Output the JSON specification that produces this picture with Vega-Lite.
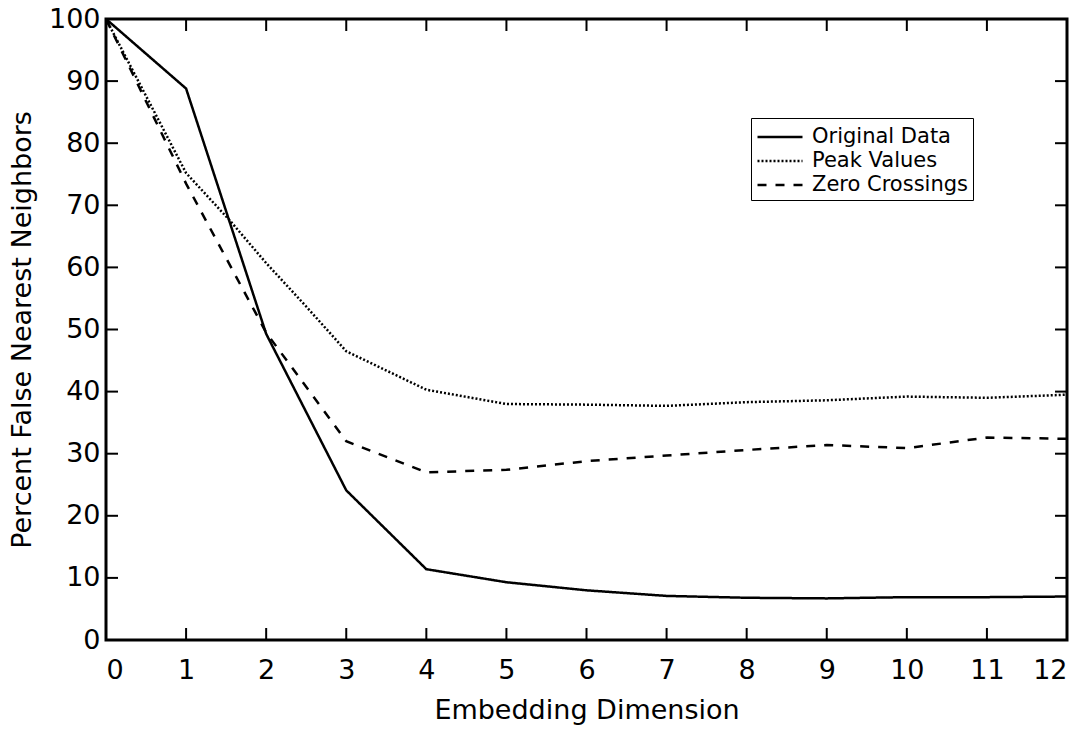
{
  "$schema": "https://vega.github.io/schema/vega-lite/v6.json",
  "width": 961,
  "height": 621,
  "autosize": "none",
  "padding": {"left": 106, "top": 19, "right": 16, "bottom": 89},
  "background": "white",
  "config": {
    "view": {"stroke": "black", "strokeWidth": 3},
    "font": "DejaVu Sans",
    "axis": {
      "domain": false,
      "ticks": false,
      "grid": false,
      "labelColor": "black",
      "titleColor": "black",
      "labelFont": "DejaVu Sans",
      "titleFont": "DejaVu Sans",
      "labelFontSize": 27,
      "titleFontSize": 27,
      "titleFontWeight": "normal"
    }
  },
  "datasets": {
    "xticks": [{"v": 0}, {"v": 1}, {"v": 2}, {"v": 3}, {"v": 4}, {"v": 5}, {"v": 6}, {"v": 7}, {"v": 8}, {"v": 9}, {"v": 10}, {"v": 11}, {"v": 12}],
    "yticks": [{"v": 0}, {"v": 10}, {"v": 20}, {"v": 30}, {"v": 40}, {"v": 50}, {"v": 60}, {"v": 70}, {"v": 80}, {"v": 90}, {"v": 100}],
    "series": [
      {"dim": 0, "pct": 100, "series": "Original Data"},
      {"dim": 1, "pct": 88.8, "series": "Original Data"},
      {"dim": 2, "pct": 49.3, "series": "Original Data"},
      {"dim": 3, "pct": 24.1, "series": "Original Data"},
      {"dim": 4, "pct": 11.4, "series": "Original Data"},
      {"dim": 5, "pct": 9.3, "series": "Original Data"},
      {"dim": 6, "pct": 8.0, "series": "Original Data"},
      {"dim": 7, "pct": 7.1, "series": "Original Data"},
      {"dim": 8, "pct": 6.8, "series": "Original Data"},
      {"dim": 9, "pct": 6.7, "series": "Original Data"},
      {"dim": 10, "pct": 6.9, "series": "Original Data"},
      {"dim": 11, "pct": 6.9, "series": "Original Data"},
      {"dim": 12, "pct": 7.0, "series": "Original Data"},
      {"dim": 0, "pct": 100, "series": "Peak Values"},
      {"dim": 1, "pct": 75.2, "series": "Peak Values"},
      {"dim": 1.55, "pct": 67.5, "series": "Peak Values"},
      {"dim": 2, "pct": 60.7, "series": "Peak Values"},
      {"dim": 2.5, "pct": 53.7, "series": "Peak Values"},
      {"dim": 3, "pct": 46.5, "series": "Peak Values"},
      {"dim": 4, "pct": 40.3, "series": "Peak Values"},
      {"dim": 5, "pct": 38.0, "series": "Peak Values"},
      {"dim": 6, "pct": 37.9, "series": "Peak Values"},
      {"dim": 7, "pct": 37.7, "series": "Peak Values"},
      {"dim": 8, "pct": 38.3, "series": "Peak Values"},
      {"dim": 9, "pct": 38.6, "series": "Peak Values"},
      {"dim": 10, "pct": 39.2, "series": "Peak Values"},
      {"dim": 11, "pct": 39.0, "series": "Peak Values"},
      {"dim": 12, "pct": 39.5, "series": "Peak Values"},
      {"dim": 0, "pct": 100, "series": "Zero Crossings"},
      {"dim": 1, "pct": 73.5, "series": "Zero Crossings"},
      {"dim": 2, "pct": 49.5, "series": "Zero Crossings"},
      {"dim": 3, "pct": 32.0, "series": "Zero Crossings"},
      {"dim": 4, "pct": 27.0, "series": "Zero Crossings"},
      {"dim": 5, "pct": 27.4, "series": "Zero Crossings"},
      {"dim": 6, "pct": 28.8, "series": "Zero Crossings"},
      {"dim": 7, "pct": 29.7, "series": "Zero Crossings"},
      {"dim": 8, "pct": 30.6, "series": "Zero Crossings"},
      {"dim": 9, "pct": 31.4, "series": "Zero Crossings"},
      {"dim": 10, "pct": 30.9, "series": "Zero Crossings"},
      {"dim": 11, "pct": 32.6, "series": "Zero Crossings"},
      {"dim": 12, "pct": 32.4, "series": "Zero Crossings"}
    ]
  },
  "layer": [
    {
      "data": {"name": "series"},
      "mark": {"type": "line", "color": "black", "strokeWidth": 2.5, "strokeCap": "butt", "clip": true},
      "encoding": {
        "x": {
          "field": "dim", "type": "quantitative",
          "scale": {"domain": [0, 12], "nice": false, "zero": false},
          "axis": {"title": "Embedding Dimension", "values": [0,1,2,3,4,5,6,7,8,9,10,11,12], "labelPadding": 17, "titlePadding": 14}
        },
        "y": {
          "field": "pct", "type": "quantitative",
          "scale": {"domain": [0, 100], "nice": false},
          "axis": {"title": "Percent False Nearest Neighbors", "values": [0,10,20,30,40,50,60,70,80,90,100], "labelPadding": 6, "titlePadding": 12}
        },
        "strokeDash": {
          "field": "series", "type": "nominal",
          "scale": {"domain": ["Original Data", "Peak Values", "Zero Crossings"], "range": [[1, 0], [2, 2], [9, 9]]},
          "legend": {
            "title": null,
            "orient": "none",
            "legendX": 645,
            "legendY": 99,
            "fillColor": "white",
            "strokeColor": "black",
            "padding": 5,
            "labelFontSize": 21,
            "labelFont": "DejaVu Sans",
            "labelColor": "black",
            "labelOffset": 18,
            "symbolType": "M-1.8,0H1.8",
            "symbolSize": 625,
            "symbolOffset": 10,
            "symbolStrokeWidth": 2.5,
            "symbolStrokeColor": "black",
            "symbolFillColor": "transparent",
            "rowPadding": 0
          }
        }
      }
    },
    {
      "data": {"name": "xticks"},
      "mark": {"type": "tick", "orient": "vertical", "color": "black", "size": 12, "thickness": 2, "opacity": 1, "yOffset": -6},
      "encoding": {
        "x": {"field": "v", "type": "quantitative", "axis": {"title": "Embedding Dimension", "values": [0,1,2,3,4,5,6,7,8,9,10,11,12], "labelPadding": 17, "titlePadding": 14}},
        "y": {"datum": 0, "type": "quantitative", "axis": {"title": "Percent False Nearest Neighbors", "values": [0,10,20,30,40,50,60,70,80,90,100], "labelPadding": 6, "titlePadding": 12}}
      }
    },
    {
      "data": {"name": "xticks"},
      "mark": {"type": "tick", "orient": "vertical", "color": "black", "size": 12, "thickness": 2, "opacity": 1, "yOffset": 6},
      "encoding": {
        "x": {"field": "v", "type": "quantitative", "axis": {"title": "Embedding Dimension", "values": [0,1,2,3,4,5,6,7,8,9,10,11,12], "labelPadding": 17, "titlePadding": 14}},
        "y": {"datum": 100, "type": "quantitative", "axis": {"title": "Percent False Nearest Neighbors", "values": [0,10,20,30,40,50,60,70,80,90,100], "labelPadding": 6, "titlePadding": 12}}
      }
    },
    {
      "data": {"name": "yticks"},
      "mark": {"type": "tick", "orient": "horizontal", "color": "black", "size": 12, "thickness": 2, "opacity": 1, "xOffset": 6},
      "encoding": {
        "y": {"field": "v", "type": "quantitative", "axis": {"title": "Percent False Nearest Neighbors", "values": [0,10,20,30,40,50,60,70,80,90,100], "labelPadding": 6, "titlePadding": 12}},
        "x": {"datum": 0, "type": "quantitative", "axis": {"title": "Embedding Dimension", "values": [0,1,2,3,4,5,6,7,8,9,10,11,12], "labelPadding": 17, "titlePadding": 14}}
      }
    },
    {
      "data": {"name": "yticks"},
      "mark": {"type": "tick", "orient": "horizontal", "color": "black", "size": 12, "thickness": 2, "opacity": 1, "xOffset": -6},
      "encoding": {
        "y": {"field": "v", "type": "quantitative", "axis": {"title": "Percent False Nearest Neighbors", "values": [0,10,20,30,40,50,60,70,80,90,100], "labelPadding": 6, "titlePadding": 12}},
        "x": {"datum": 12, "type": "quantitative", "axis": {"title": "Embedding Dimension", "values": [0,1,2,3,4,5,6,7,8,9,10,11,12], "labelPadding": 17, "titlePadding": 14}}
      }
    }
  ]
}
